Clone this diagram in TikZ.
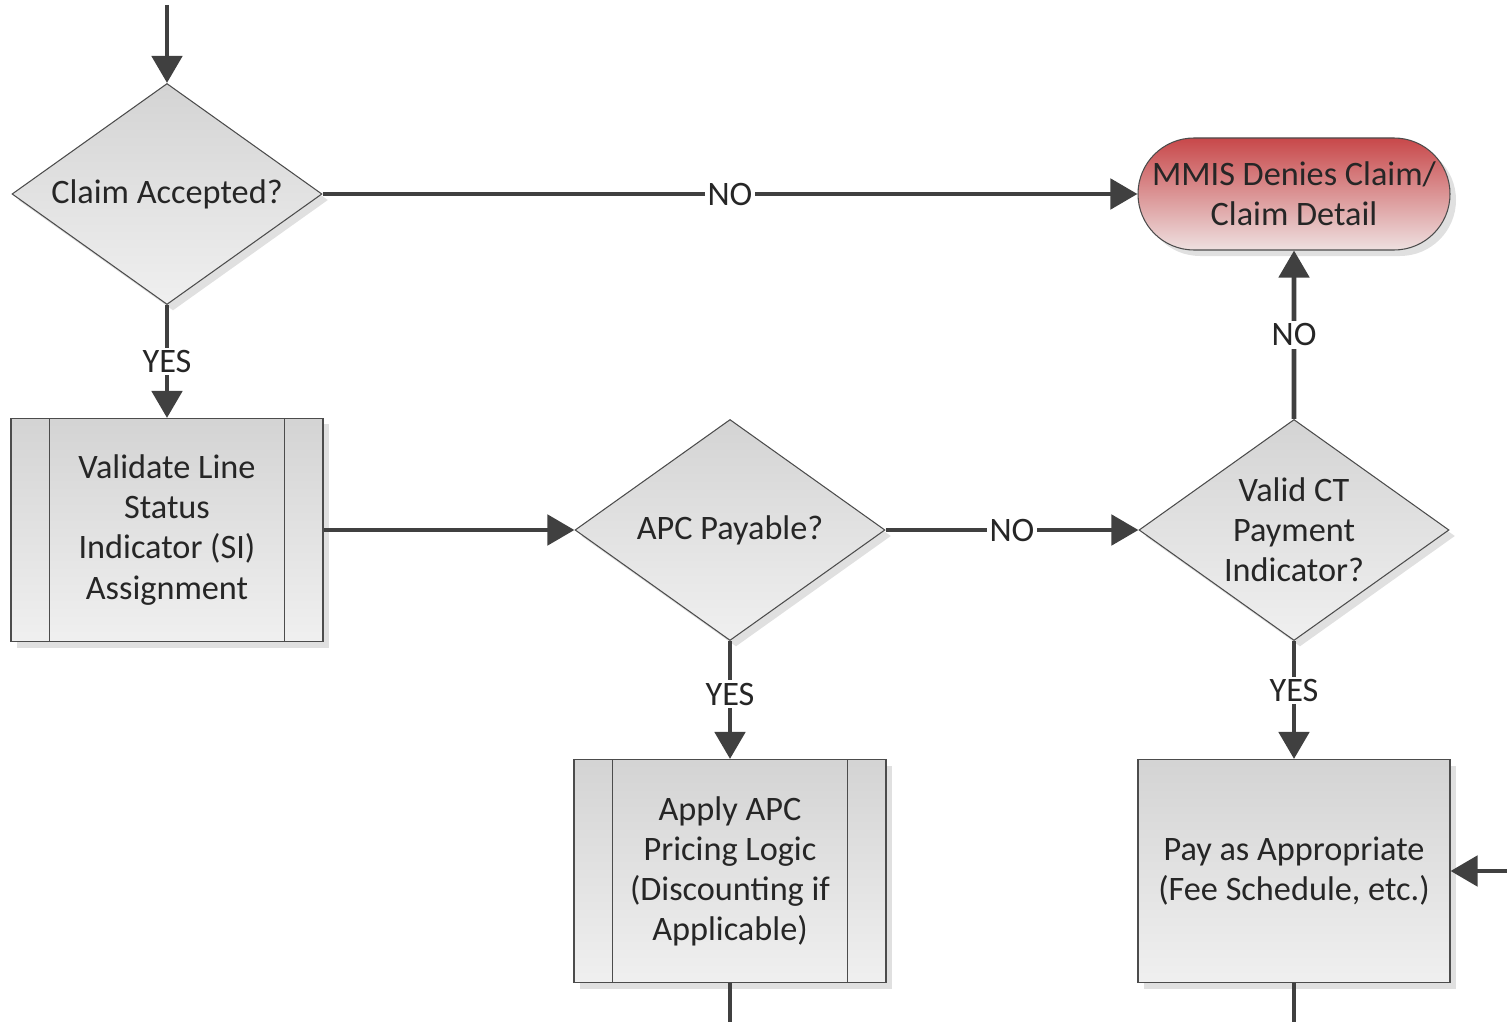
\documentclass[tikz,border=0pt]{standalone}
\usepackage{fontspec}
\setmainfont{Carlito}
\usetikzlibrary{shapes.geometric, shapes.misc, shadows, arrows.meta}

\definecolor{lineGray}{HTML}{404040}
\definecolor{denyTop}{RGB}{200,72,74}
\definecolor{denyBottom}{RGB}{238,224,224}

\begin{document}
\begin{tikzpicture}[x=0.2mm, y=-0.2mm,
    shapebox/.style={draw=black!70, line width=0.6pt, top color=black!17, bottom color=black!6,
        drop shadow={shadow xshift=0.12cm, shadow yshift=-0.12cm, fill=black!12, opacity=1},
        font=\fontsize{19.5}{22.8}\selectfont, text=black!85, align=center, inner sep=0pt},
    dtext/.style={font=\fontsize{19.5}{22.8}\selectfont, text=black!85, align=center, inner sep=0pt},
    decision/.style={shapebox, diamond, minimum width=6.2cm, minimum height=4.42cm},
    terminal/.style={shapebox, rounded rectangle, minimum width=6.24cm, minimum height=2.24cm,
        top color=denyTop, bottom color=denyBottom},
    process/.style={shapebox, rectangle, minimum width=6.24cm, minimum height=4.46cm},
    predef/.style={process, path picture={
        \draw[black!70, line width=0.6pt]
            ([xshift=0.77cm]path picture bounding box.north west) -- ([xshift=0.77cm]path picture bounding box.south west)
            ([xshift=-0.77cm]path picture bounding box.north east) -- ([xshift=-0.77cm]path picture bounding box.south east);}},
    arrowline/.style={draw=lineGray, line width=2.8pt, -{Triangle[length=5.4mm, width=6mm]}},
    plainline/.style={draw=lineGray, line width=2.8pt},
    lbl/.style={fill=white, inner sep=1.5pt, font=\fontsize{19.5}{22.8}\selectfont, text=black!85}
]
    \useasboundingbox (0,0) rectangle (1507,1022);

    % Shapes
    \node[decision, label={[dtext]center:{Claim Accepted?}}] (accept) at (167,194) {};
    \node[terminal] (deny) at (1294,194) {MMIS Denies Claim/\\Claim Detail};
    \node[predef] (validate) at (167,530) {Validate Line\\Status\\Indicator (SI)\\Assignment};
    \node[decision, label={[dtext]center:{APC Payable?}}] (payable) at (730,530) {};
    \node[decision, label={[dtext]center:{Valid CT\\Payment\\Indicator?}}] (ctvalid) at (1294,530) {};
    \node[predef] (apply) at (730,871) {Apply APC\\Pricing Logic\\(Discounting if\\Applicable)};
    \node[process] (pay) at (1294,871) {Pay as Appropriate\\(Fee Schedule, etc.)};

    % Loose ends
    \coordinate (top) at (167,5);
    \coordinate (side) at (1507,871);
    \coordinate (applyout) at (730,1022);
    \coordinate (payout) at (1294,1022);

    % Connectors
    \draw[arrowline] (top) -- (accept);
    \draw[arrowline] (accept) -- node[lbl] {NO} (deny);
    \draw[arrowline] (accept) -- node[lbl] {YES} (validate);
    \draw[arrowline] (validate) -- (payable);
    \draw[arrowline] (payable) -- node[lbl] {NO} (ctvalid);
    \draw[arrowline] (ctvalid) -- node[lbl] {NO} (deny);
    \draw[arrowline] (payable) -- node[lbl, pos=0.45] {YES} (apply);
    \draw[arrowline] (ctvalid) -- node[lbl, pos=0.42] {YES} (pay);
    \draw[arrowline] (side) -- (pay);
    \draw[plainline] (apply) -- (applyout);
    \draw[plainline] (pay) -- (payout);
\end{tikzpicture}
\end{document}
